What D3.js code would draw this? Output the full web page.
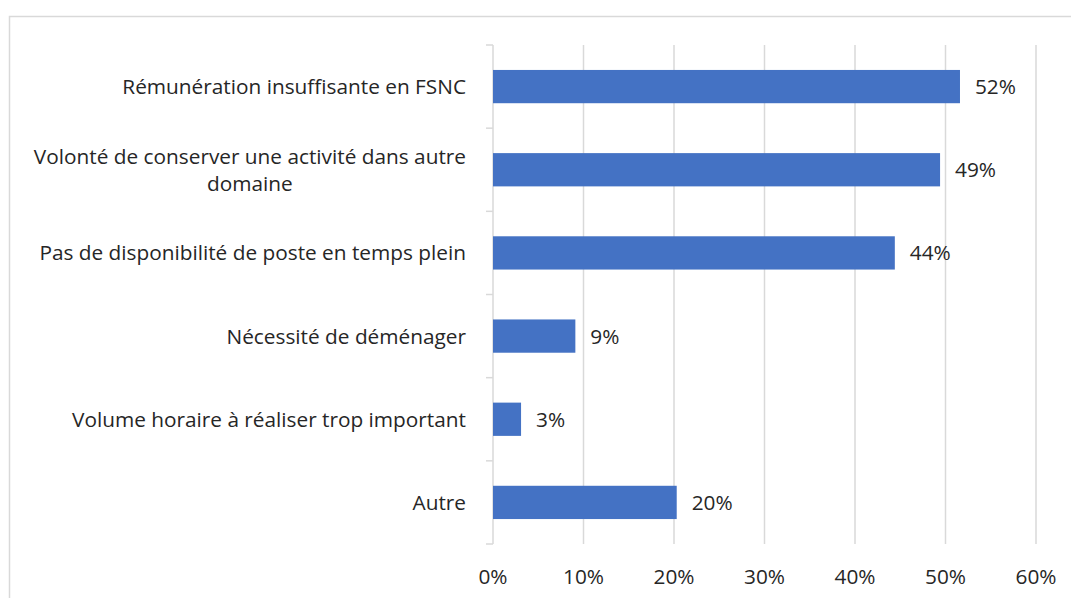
<!DOCTYPE html>
<html>
<head>
<meta charset="utf-8">
<script src="https://cdn.jsdelivr.net/npm/d3@7"></script>
<style>
  body { margin: 0; background: #fff; }
  svg text { font-family: "Open Sans", Lato, sans-serif; fill: #262626; }
</style>
</head>
<body>
<div id="chart"></div>
<script>
const categories = [
  ['Rémunération insuffisante en FSNC'],
  ['Volonté de conserver une activité dans autre', 'domaine'],
  ['Pas de disponibilité de poste en temps plein'],
  ['Nécessité de déménager'],
  ['Volume horaire à réaliser trop important'],
  ['Autre'],
];
const values = [0.516, 0.494, 0.444, 0.091, 0.031, 0.203];
const xTicks = [0, 0.1, 0.2, 0.3, 0.4, 0.5, 0.6];

const width = 1071;
const height = 598;
const margin = { top: 45, right: 35, bottom: 54, left: 493 };
const fontSize = '20.8px';

const svg = d3
  .select('#chart')
  .append('svg')
  .attr('width', width)
  .attr('height', height);

// chart area border
svg
  .append('path')
  .attr('d', `M9.5,${height}V16.5H${width}`)
  .attr('fill', 'none')
  .attr('stroke', '#d9d9d9')
  .attr('stroke-width', 1.5);

const x = d3
  .scaleLinear()
  .domain([0, 0.6])
  .range([margin.left, width - margin.right]);

const y = d3
  .scaleBand()
  .domain(d3.range(categories.length))
  .range([margin.top, height - margin.bottom])
  .paddingInner(0.6)
  .paddingOuter(0.3);

const fmt = d3.format('.0%');

// gridlines
svg
  .selectAll('.grid')
  .data(xTicks.slice(1))
  .enter()
  .append('line')
  .classed('grid', true)
  .attr('x1', (d) => x(d))
  .attr('x2', (d) => x(d))
  .attr('y1', margin.top)
  .attr('y2', height - margin.bottom)
  .attr('stroke', '#d9d9d9')
  .attr('stroke-width', 1.5);

// x tick labels
svg
  .selectAll('.xlabel')
  .data(xTicks)
  .enter()
  .append('text')
  .classed('xlabel', true)
  .attr('x', (d) => x(d))
  .attr('y', 577)
  .attr('dy', '0.36em')
  .attr('text-anchor', 'middle')
  .style('font-size', fontSize)
  .text(fmt);

// y axis line + ticks
const step = y.step();
const yAxis = svg.append('g');
yAxis
  .append('line')
  .attr('x1', margin.left)
  .attr('x2', margin.left)
  .attr('y1', margin.top)
  .attr('y2', height - margin.bottom)
  .attr('stroke', '#d9d9d9')
  .attr('stroke-width', 1.5);
yAxis
  .selectAll('.ytick')
  .data(d3.range(categories.length + 1))
  .enter()
  .append('line')
  .attr('x1', margin.left - 7)
  .attr('x2', margin.left)
  .attr('y1', (i) => margin.top + i * step)
  .attr('y2', (i) => margin.top + i * step)
  .attr('stroke', '#d9d9d9')
  .attr('stroke-width', 1.5);

// bars
svg
  .selectAll('.bar')
  .data(values)
  .enter()
  .append('rect')
  .classed('bar', true)
  .attr('x', x(0))
  .attr('y', (d, i) => y(i))
  .attr('width', (d) => x(d) - x(0))
  .attr('height', y.bandwidth())
  .attr('fill', '#4472c4');

// value labels
svg
  .selectAll('.vlabel')
  .data(values)
  .enter()
  .append('text')
  .classed('vlabel', true)
  .attr('x', (d) => x(d) + 15)
  .attr('y', (d, i) => y(i) + y.bandwidth() / 2)
  .attr('dy', '0.36em')
  .style('font-size', fontSize)
  .text(fmt);

// category labels (wrapped lines centred on each other, block right-aligned)
const labelRight = 466;
const lineH = 27;
categories.forEach((lines, i) => {
  const cy = y(i) + y.bandwidth() / 2;
  const g = svg.append('g');
  const texts = g
    .selectAll('text')
    .data(lines)
    .enter()
    .append('text')
    .attr('y', (d, j) => cy + (j - (lines.length - 1) / 2) * lineH)
    .attr('dy', '0.36em')
    .attr('text-anchor', 'middle')
    .style('font-size', fontSize)
    .text((d) => d);
  const maxW = d3.max(texts.nodes(), (n) => n.getComputedTextLength());
  texts.attr('x', labelRight - maxW / 2);
});
</script>
</body>
</html>
